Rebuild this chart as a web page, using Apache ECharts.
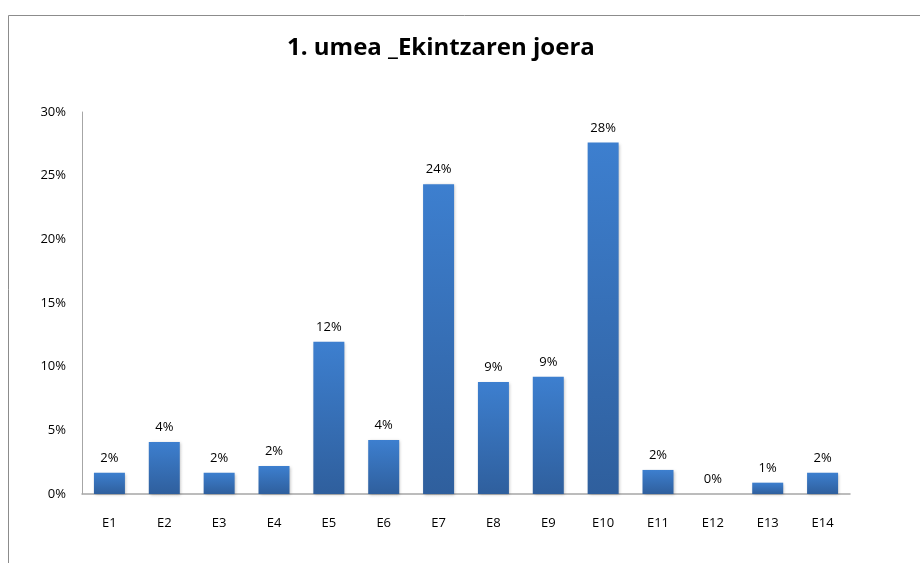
<!DOCTYPE html>
<html>
<head>
<meta charset="utf-8">
<script src="https://cdn.jsdelivr.net/npm/echarts@6/dist/echarts.min.js"></script>
<style>
  html, body { margin: 0; padding: 0; background: #fff; }
  #chart { width: 920px; height: 563px; }
</style>
</head>
<body>
<div id="chart"></div>
<script>
const myChart = echarts.init(document.getElementById('chart'));

// values (percent)
const categories = ['E1', 'E2', 'E3', 'E4', 'E5', 'E6', 'E7', 'E8', 'E9', 'E10', 'E11', 'E12', 'E13', 'E14'];
const shares = [1.67, 4.08, 1.67, 2.2, 11.96, 4.24, 24.33, 8.8, 9.2, 27.6, 1.89, 0, 0.89, 1.67];
const yTicks = [0, 5, 10, 15, 20, 25, 30];

const font = '"Open Sans", "Liberation Sans", sans-serif';

const option = {
  backgroundColor: '#fff',
  animation: false,
  title: {
    text: '1. umea _Ekintzaren joera',
    left: 282,
    top: 31,
    textStyle: { fontFamily: font, fontWeight: 'bold', fontSize: 24, color: '#000' }
  },
  graphic: [
    {
      type: 'polyline',
      shape: { points: [[8.5, 563], [8.5, 15.5], [920, 15.5]] },
      style: { stroke: '#8c8c8c', lineWidth: 1, fill: null }
    }
  ],
  grid: { left: 82, right: 70, top: 112, bottom: 69 },
  xAxis: {
    type: 'category',
    data: categories,
    axisLine: { lineStyle: { color: '#a6a6a6', width: 1.5 } },
    axisTick: { show: false },
    axisLabel: { margin: 23, fontFamily: font, fontSize: 13, color: '#000' }
  },
  yAxis: {
    type: 'value',
    min: yTicks[0],
    max: yTicks[yTicks.length - 1],
    interval: 5,
    splitLine: { show: false },
    axisLine: { show: true, lineStyle: { color: '#a6a6a6', width: 1 } },
    axisTick: { show: false },
    axisLabel: { margin: 16, fontFamily: font, fontSize: 13, color: '#000', formatter: '{value}%' }
  },
  series: [
    {
      name: 'joera',
      type: 'bar',
      data: shares,
      barWidth: 31,
      itemStyle: {
        color: new echarts.graphic.LinearGradient(0, 0, 0, 1, [
          { offset: 0, color: '#3d7fcf' },
          { offset: 1, color: '#2f5f9d' }
        ]),
        shadowBlur: 3,
        shadowColor: 'rgba(0,0,0,0.25)',
        shadowOffsetX: 1,
        shadowOffsetY: 1
      },
      label: {
        show: true,
        position: 'top',
        distance: 8,
        fontFamily: font,
        fontSize: 13,
        color: '#000',
        formatter: p => Math.round(p.value) + '%'
      }
    }
  ]
};
myChart.setOption(option);
</script>
</body>
</html>
